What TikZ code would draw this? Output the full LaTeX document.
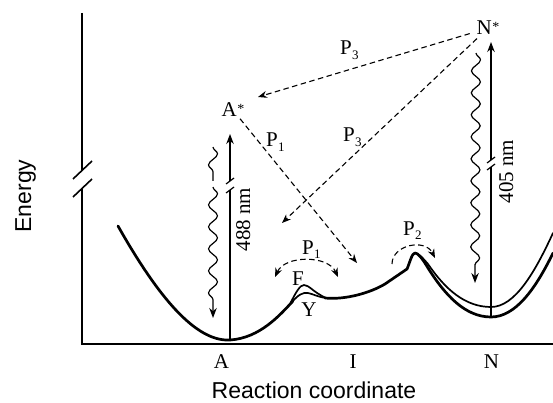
\documentclass[tikz,border=0pt]{standalone}
\usepackage{fontspec}
\setmainfont{Liberation Serif}
\newfontfamily\sansf{Liberation Sans}
\usetikzlibrary{arrows.meta,decorations.pathmorphing}
\newcommand\Pn[1]{P\kern0.2pt\raisebox{-4.5pt}{\fontsize{13}{13}\selectfont #1}}
\newcommand\Str{\kern0.5pt\raisebox{3pt}{\fontsize{14}{14}\selectfont *}}
\begin{document}
\begin{tikzpicture}[x=1pt,y=-1pt,
  axis/.style={line width=1.6pt},
  curve/.style={line width=2.7pt, line cap=round, line join=round},
  thincurve/.style={line width=1.7pt, line cap=round},
  solidline/.style={line width=1.2pt},
  solidarrow/.style={line width=1.2pt, -{Stealth[length=10pt,width=7.5pt]}},
  wavy/.style={line width=1.2pt, decorate, decoration={snake, amplitude=4.5pt, segment length=22pt, post length=9pt}},
  dasharrow/.style={line width=1.1pt, dash pattern=on 5.5pt off 3.5pt, -{Stealth[length=9pt,width=7pt]}},
  lab/.style={font=\fontsize{21}{21}\selectfont, inner sep=0pt, anchor=base},
  plab/.style={font=\fontsize{21}{21}\selectfont, inner sep=0pt, anchor=base west},
  nmlab/.style={font=\fontsize{21}{21}\selectfont, inner sep=0pt, anchor=base, rotate=90},
  axlab/.style={font=\sansf\fontsize{23}{23}\selectfont, inner sep=0pt, anchor=base}
]
\useasboundingbox (0,0) rectangle (553,403);
% axes
\draw[axis] (82,13) -- (82,170);
\draw[axis] (73,179) -- (92,161);
\draw[axis] (73,197) -- (92,179);
\draw[axis] (82,188) -- (82,344) -- (553,344);
% axis labels
\node[axlab] (ylab) at (31,196) [rotate=90] {Energy};
\node[axlab] (xlab) at (314,398) {Reaction coordinate};
\node[lab] (la) at (221.5,368) {A};
\node[lab] (li) at (353,368) {I};
\node[lab] (ln) at (491.5,368) {N};
% energy curve
\draw[curve] (118,226) .. controls (157,295) and (195,342) .. (230,340)
  .. controls (260,338) and (280,315) .. (293,301);
\draw[thincurve] (292,302) .. controls (298,295) and (303,292) .. (308,293)
  .. controls (313,294) and (318,297) .. (326,298);
\draw[thincurve] (290,304) .. controls (296,292) and (300,285) .. (304,285)
  .. controls (309,285) and (313,292) .. (326,298);
\draw[curve] (325,298) .. controls (345,300) and (370,293) .. (385,284)
  -- (407,269) .. controls (410,262) and (412,253) .. (415,253)
  .. controls (418,253) and (422,258) .. (428,268)
  .. controls (445,295) and (465,317) .. (491,317)
  .. controls (515,317) and (535,290) .. (553,253);
\draw[thincurve] (415,253) .. controls (418,253) and (422,257) .. (428,264)
  .. controls (445,289) and (465,307) .. (491,307)
  .. controls (515,307) and (535,272) .. (553,233);
% states
\node[lab] (Astar) at (233,117) {A\Str};
\node[lab] (Nstar) at (488,35) {N\Str};
\coordinate (Amin) at (230,340);
\coordinate (Ab1) at (230,190);
\coordinate (Ab2) at (230,181);
\coordinate (Atop) at (230,134);
\coordinate (Nmin) at (491,317);
\coordinate (Nb1) at (491,167);
\coordinate (Nb2) at (491,160);
\coordinate (Ntop) at (491,42);
% excitation arrows
\draw[solidline] (Amin) -- (Ab1);
\draw[solidline] (226,193) -- (234,187);
\draw[solidarrow] (Ab2) -- (Atop);
\draw[solidline] (226,184) -- (234,178);
\draw[solidline] (Nmin) -- (Nb1);
\draw[solidline] (487,170) -- (495,164);
\draw[solidarrow] (Nb2) -- (Ntop);
\draw[solidline] (487,163) -- (495,157);
\node[nmlab] (l488) at (250,219.5) {488 nm};
\node[nmlab] (l405) at (513,171.5) {405 nm};
% emission (wavy)
\coordinate (wa1) at (213,147);
\coordinate (wa2) at (213,181);
\coordinate (wa3) at (213,187);
\coordinate (wa4) at (213,318);
\draw[wavy] (wa1) -- (wa2);
\draw[wavy, -{Stealth[length=10pt,width=7.5pt]}] (wa3) -- (wa4);
\coordinate (wn1) at (476,53);
\coordinate (wn2) at (475,283);
\draw[wavy, -{Stealth[length=10pt,width=7.5pt]}] (wn1) -- (wn2);
% dashed pathways
\coordinate (e1) at (258,97);
\coordinate (e2) at (282,223);
\coordinate (e3) at (357,263);
\draw[dasharrow, shorten <=7pt] (Nstar) -- (e1);
\draw[dasharrow, shorten <=5pt] (Nstar) -- (e2);
\draw[dasharrow, shorten <=2pt] (Astar) -- (e3);
\node[plab] (p3a) at (340,55) {\Pn{3}};
\node[plab] (p3b) at (343,142) {\Pn{3}};
\node[plab] (p1a) at (266,147) {\Pn{1}};
% local arcs
\coordinate (f1) at (275,277);
\coordinate (f2) at (338,277);
\draw[dasharrow, {Stealth[length=9pt,width=7pt]}-{Stealth[length=9pt,width=7pt]}] (f1) .. controls (285,255) and (328,255) .. (f2);
\node[plab] (p1b) at (302,254) {\Pn{1}};
\coordinate (g1) at (392,264);
\coordinate (g2) at (435,258);
\draw[dasharrow] (g1) .. controls (392,245) and (425,238) .. (g2);
\node[plab] (p2) at (403,235) {\Pn{2}};
\node[lab] (lf) at (298,285) {F};
\node[lab] (ly) at (309,316) {Y};
\end{tikzpicture}
\end{document}
